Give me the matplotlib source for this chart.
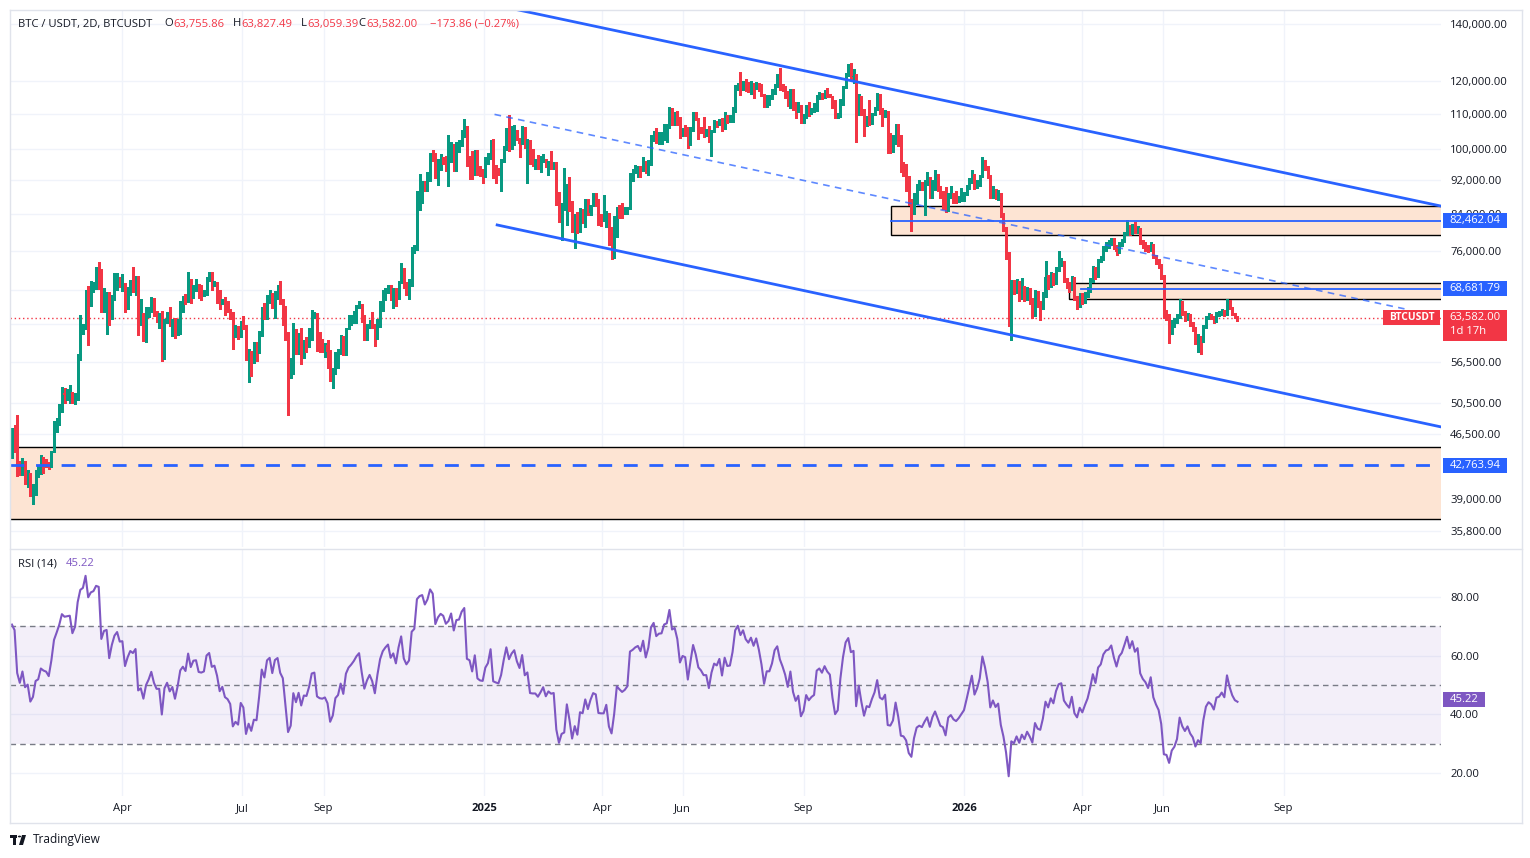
import datetime as dt
import numpy as np
import matplotlib
matplotlib.use("Agg")
import matplotlib.pyplot as plt
import matplotlib.dates as mdates
from matplotlib.patches import Rectangle, Polygon, Circle
from matplotlib.lines import Line2D
from matplotlib.ticker import FixedLocator, NullLocator

plt.rcParams['font.family'] = ['Open Sans', 'DejaVu Sans']

# ---------------- data (prices in thousands USDT, 2-day candles) ----------------
FIRST_BAR_CLOSE_DAY = '2024-01-08'   # candles [Jan 7-8], [Jan 9-10], ...
first_open_k = 43.9

close_k = [
    47.0, 46.6, 42.8, 41.7, 43.1, 41.3, 41.6, 39.5, 40.0, 41.8,
    42.0, 43.3, 43.1, 43.0, 42.6, 44.3, 47.1, 48.3, 49.7, 51.9,
    51.7, 51.8, 51.9, 50.7, 51.7, 57.0, 61.2, 62.0, 68.3, 66.1,
    68.3, 68.9, 71.5, 71.4, 65.3, 67.6, 67.9, 63.8, 67.2, 69.9,
    71.0, 69.6, 69.7, 65.9, 67.9, 69.4, 69.1, 70.0, 63.0, 63.4,
    61.3, 63.8, 64.9, 66.4, 64.5, 63.4, 63.4, 58.3, 62.9, 64.0,
    62.3, 63.1, 60.8, 63.0, 66.2, 67.0, 66.3, 70.1, 67.9, 69.3,
    69.4, 67.6, 67.5, 67.7, 70.6, 71.1, 69.3, 69.5, 68.2, 66.0,
    66.6, 65.1, 64.8, 64.1, 60.3, 60.8, 60.3, 62.7, 62.0, 57.0,
    58.2, 56.7, 58.0, 57.9, 60.8, 65.1, 63.9, 67.1, 67.6, 65.4,
    67.9, 68.3, 66.2, 65.4, 60.7, 54.0, 55.0, 60.9, 58.7, 60.6,
    57.5, 59.5, 59.4, 61.2, 64.0, 64.2, 59.4, 59.0, 58.9, 59.1,
    58.0, 54.0, 54.9, 57.6, 58.1, 60.0, 58.2, 61.8, 63.0, 63.6,
    64.3, 65.2, 65.8, 63.3, 60.8, 62.1, 63.0, 62.1, 60.3, 63.2,
    66.0, 67.6, 68.4, 69.0, 67.4, 68.2, 67.0, 69.9, 72.3, 69.5,
    68.7, 69.4, 75.9, 76.7, 88.7, 90.5, 91.1, 89.8, 92.3, 98.3,
    97.7, 93.0, 95.9, 97.5, 97.2, 96.0, 97.0, 99.9, 97.4, 101.2,
    101.4, 104.5, 106.1, 97.5, 97.2, 94.9, 99.4, 94.2, 93.7, 93.6,
    96.9, 98.1, 102.1, 95.0, 94.7, 94.5, 96.5, 100.5, 104.4, 102.0,
    103.7, 104.7, 102.6, 101.3, 104.7, 100.6, 101.3, 96.6, 96.5, 96.5,
    95.8, 96.6, 97.5, 95.8, 96.6, 96.2, 96.3, 88.7, 84.7, 86.0,
    86.2, 90.6, 86.7, 80.7, 82.9, 80.0, 84.3, 84.0, 86.8, 84.2,
    86.1, 87.5, 87.2, 82.6, 82.5, 82.5, 83.9, 78.4, 76.3, 79.6,
    85.3, 84.6, 84.0, 84.4, 85.1, 93.4, 93.9, 94.6, 95.0, 94.2,
    96.9, 94.3, 96.8, 103.2, 104.8, 102.7, 103.5, 103.6, 106.4, 106.8,
    111.7, 108.9, 109.4, 107.8, 104.0, 105.6, 105.4, 101.5, 105.6, 110.3,
    108.6, 106.1, 105.5, 104.6, 104.6, 102.2, 105.3, 107.3, 107.0, 108.4,
    105.7, 109.6, 108.2, 108.3, 111.3, 117.5, 119.1, 117.7, 119.2, 117.9,
    117.4, 118.7, 117.6, 119.4, 117.9, 115.8, 112.6, 115.0, 115.0, 116.5,
    119.3, 120.2, 118.4, 117.4, 116.2, 114.3, 116.9, 113.5, 111.8, 112.6,
    108.4, 109.2, 111.7, 110.7, 111.2, 111.5, 115.5, 115.9, 115.3, 116.4,
    115.7, 115.3, 112.0, 109.1, 109.6, 114.3, 118.6, 122.3, 123.5, 121.4,
    121.7, 110.6, 115.3, 110.8, 106.4, 108.6, 108.3, 110.1, 111.6, 114.5,
    110.1, 109.6, 110.6, 101.5, 101.3, 102.3, 106.0, 101.7, 94.5, 94.2,
    92.5, 86.6, 84.6, 88.2, 90.4, 90.8, 90.3, 91.3, 92.1, 89.3,
    91.0, 92.0, 90.2, 88.2, 87.8, 85.5, 88.2, 88.6, 87.6, 87.2,
    87.6, 88.1, 88.6, 90.0, 91.6, 93.3, 90.5, 91.4, 92.9, 96.7,
    95.2, 93.0, 88.3, 89.4, 88.1, 88.6, 84.0, 80.9, 75.5, 62.7,
    69.5, 68.6, 70.0, 67.2, 68.8, 67.0, 68.4, 66.6, 64.3, 67.9,
    66.0, 65.6, 67.6, 70.9, 69.4, 71.2, 70.0, 72.4, 73.8, 74.0,
    70.4, 69.5, 68.8, 70.6, 67.0, 66.0, 67.5, 66.5, 67.6, 68.6,
    70.3, 72.6, 71.2, 74.0, 74.6, 76.6, 77.4, 77.6, 78.4, 77.0,
    75.9, 77.6, 78.2, 79.6, 81.2, 80.0, 81.3, 80.2, 80.8, 78.0,
    77.3, 76.9, 76.2, 77.5, 75.0, 74.0, 73.2, 71.0, 64.0, 63.8,
    61.3, 62.6, 63.0, 63.8, 66.2, 64.5, 63.5, 64.0, 62.6, 61.8,
    59.8, 60.4, 59.8, 62.0, 63.5, 64.0, 63.7, 63.0, 64.2, 64.3,
    64.7, 64.2, 66.4, 65.2, 64.3, 63.75586, 63.582,
]

high_k = [
    47.2, 47.7, 49.0, 43.3, 43.6, 43.2, 42.2, 41.9, 40.6, 42.2,
    42.8, 43.9, 43.7, 43.5, 43.1, 44.4, 48.2, 48.6, 50.4, 52.8,
    52.6, 52.5, 53.0, 52.0, 51.9, 57.6, 64.0, 62.5, 68.5, 69.2,
    70.1, 70.0, 72.9, 73.8, 72.4, 68.9, 68.1, 68.1, 67.6, 71.6,
    71.7, 70.9, 71.4, 69.7, 69.0, 70.3, 72.8, 71.2, 71.2, 66.9,
    64.4, 65.5, 65.4, 67.2, 67.1, 64.8, 64.4, 64.7, 63.3, 64.5,
    65.5, 63.4, 63.5, 63.4, 66.4, 67.4, 67.7, 71.9, 70.6, 69.5,
    70.6, 69.6, 69.5, 68.4, 71.0, 71.8, 71.9, 70.1, 70.0, 68.4,
    66.9, 67.2, 66.4, 65.0, 64.5, 62.4, 62.2, 63.0, 63.8, 62.3,
    58.5, 58.2, 59.5, 59.5, 61.4, 65.4, 66.1, 67.5, 68.5, 68.0,
    68.3, 69.4, 70.1, 66.9, 65.6, 61.1, 57.1, 62.7, 61.7, 61.0,
    61.8, 59.8, 60.3, 61.8, 64.9, 64.5, 64.4, 61.2, 60.0, 59.4,
    59.8, 58.3, 55.5, 58.0, 58.5, 60.7, 60.6, 61.8, 64.1, 64.0,
    64.8, 65.8, 66.5, 66.0, 64.1, 62.5, 63.2, 64.5, 62.5, 63.4,
    66.5, 68.4, 68.9, 69.4, 69.5, 68.8, 68.8, 70.2, 73.6, 72.7,
    69.9, 70.5, 76.9, 77.2, 89.4, 93.5, 91.8, 91.8, 94.1, 98.9,
    99.8, 98.9, 97.4, 98.7, 97.9, 98.1, 104.0, 101.9, 101.4, 101.9,
    102.5, 105.3, 108.4, 106.5, 98.2, 99.5, 99.9, 99.9, 95.5, 94.9,
    97.8, 98.9, 102.5, 102.7, 95.8, 95.0, 97.3, 100.8, 105.9, 109.6,
    106.3, 106.8, 105.3, 103.1, 106.4, 106.1, 102.8, 102.5, 100.1, 97.3,
    98.5, 98.1, 98.8, 97.1, 96.9, 99.5, 96.7, 96.5, 89.2, 86.5,
    95.0, 91.0, 92.8, 86.9, 84.1, 84.4, 85.3, 85.1, 87.4, 87.4,
    86.1, 88.8, 88.8, 87.5, 83.9, 88.5, 84.7, 84.2, 81.2, 83.5,
    85.5, 86.0, 86.5, 85.5, 85.5, 93.9, 94.7, 95.8, 95.6, 95.5,
    97.9, 96.9, 97.1, 103.9, 104.9, 105.8, 104.8, 104.6, 107.1, 107.1,
    111.9, 111.8, 110.4, 110.7, 108.9, 105.9, 106.8, 106.0, 106.0, 110.4,
    110.4, 108.6, 106.2, 108.9, 105.6, 106.4, 105.4, 108.1, 108.0, 108.5,
    108.8, 110.5, 109.7, 109.7, 111.9, 118.9, 119.5, 123.2, 120.1, 120.8,
    119.7, 120.2, 119.5, 119.8, 119.3, 119.3, 116.0, 115.7, 115.7, 117.7,
    119.3, 122.3, 124.5, 119.2, 118.6, 117.0, 117.4, 117.4, 113.6, 113.5,
    112.6, 109.9, 112.6, 113.4, 111.7, 113.2, 115.6, 116.7, 116.2, 117.3,
    117.9, 116.1, 115.4, 114.0, 110.3, 114.5, 118.6, 122.8, 125.7, 126.2,
    124.2, 122.5, 115.9, 115.4, 111.3, 109.4, 114.0, 110.3, 112.1, 116.4,
    116.1, 111.6, 111.2, 110.8, 104.5, 104.0, 107.0, 107.0, 104.0, 96.7,
    96.0, 93.0, 87.5, 89.0, 91.0, 92.0, 91.5, 92.0, 94.1, 92.7,
    92.0, 94.5, 93.5, 90.6, 89.3, 90.3, 89.0, 90.5, 88.9, 89.3,
    88.2, 90.0, 89.2, 90.9, 92.6, 94.6, 93.6, 92.0, 93.4, 97.9,
    97.2, 95.6, 93.3, 90.6, 89.8, 89.6, 89.0, 84.3, 81.2, 75.9,
    70.4, 70.3, 70.5, 70.2, 70.8, 69.3, 69.0, 68.8, 67.0, 68.4,
    68.3, 66.4, 68.1, 74.0, 71.3, 71.8, 71.6, 72.9, 76.0, 74.6,
    74.1, 70.8, 69.9, 71.2, 70.9, 67.4, 68.0, 67.9, 68.1, 69.0,
    70.7, 73.0, 72.9, 74.4, 75.1, 77.0, 77.9, 78.3, 78.8, 78.7,
    77.3, 77.9, 78.6, 80.0, 82.7, 81.6, 81.8, 82.3, 81.3, 81.0,
    78.3, 77.9, 77.2, 77.9, 77.6, 75.2, 74.4, 73.5, 71.3, 64.9,
    64.2, 63.1, 63.5, 64.2, 66.9, 66.4, 64.7, 64.4, 64.2, 62.9,
    62.0, 60.8, 60.6, 62.4, 63.9, 64.3, 64.2, 63.9, 64.5, 64.8,
    65.0, 64.9, 66.8, 66.6, 65.4, 64.4, 63.82749,
]

low_k = [
    43.6, 44.3, 41.5, 41.7, 41.7, 40.7, 40.3, 39.4, 38.5, 39.5,
    41.4, 41.8, 41.9, 42.6, 42.3, 42.6, 44.3, 46.8, 47.7, 49.3,
    50.6, 51.0, 50.5, 50.5, 50.4, 50.9, 56.7, 60.8, 61.6, 59.0,
    65.6, 68.1, 68.6, 68.6, 64.6, 64.6, 60.8, 62.3, 63.3, 66.6,
    68.4, 69.1, 68.3, 64.5, 65.1, 67.6, 68.2, 67.5, 60.7, 62.3,
    59.7, 59.6, 63.7, 64.5, 63.8, 62.8, 61.8, 56.6, 56.9, 62.6,
    62.2, 60.6, 60.2, 60.7, 60.8, 64.6, 65.9, 66.3, 66.1, 67.1,
    68.3, 67.1, 66.7, 67.3, 67.6, 70.2, 68.5, 69.2, 66.1, 65.1,
    65.9, 64.1, 64.5, 63.4, 58.4, 60.3, 60.1, 60.4, 61.7, 56.8,
    53.5, 54.3, 56.3, 56.6, 57.8, 60.6, 63.3, 63.3, 66.2, 65.2,
    63.5, 66.8, 65.9, 62.3, 59.9, 49.0, 54.1, 54.7, 57.6, 57.6,
    56.1, 57.1, 57.9, 58.8, 59.8, 63.6, 58.1, 57.9, 57.9, 57.2,
    55.6, 53.6, 52.6, 54.6, 55.6, 57.6, 57.5, 57.5, 61.7, 62.4,
    62.7, 62.7, 65.4, 62.9, 59.8, 59.9, 61.9, 61.8, 58.9, 60.1,
    62.0, 64.8, 66.6, 67.9, 66.6, 65.2, 65.6, 66.8, 69.7, 68.8,
    67.5, 66.8, 69.3, 75.6, 76.3, 85.0, 86.6, 89.3, 89.4, 91.8,
    97.0, 92.6, 90.8, 94.6, 96.2, 94.4, 90.5, 96.5, 94.2, 94.3,
    99.3, 100.8, 103.3, 95.5, 92.2, 92.3, 93.4, 93.4, 93.1, 91.3,
    92.9, 96.0, 97.3, 92.5, 91.2, 93.3, 89.3, 96.5, 99.9, 99.5,
    100.1, 101.2, 102.4, 97.8, 101.3, 100.3, 91.2, 96.2, 95.6, 94.7,
    94.9, 94.1, 96.8, 95.2, 93.4, 94.8, 94.9, 86.1, 82.3, 78.3,
    85.0, 81.5, 84.7, 80.0, 76.6, 79.9, 80.8, 82.0, 81.1, 83.7,
    83.7, 85.9, 85.8, 81.6, 81.3, 82.4, 81.2, 77.2, 74.5, 74.6,
    78.9, 83.0, 83.1, 84.0, 83.9, 85.1, 91.7, 93.9, 92.9, 92.9,
    94.2, 93.9, 93.4, 95.8, 102.3, 101.8, 101.4, 101.4, 102.6, 102.0,
    105.9, 106.6, 106.7, 106.8, 103.1, 103.7, 103.7, 100.4, 101.0, 105.1,
    108.1, 102.7, 104.4, 103.4, 103.5, 101.9, 98.2, 104.7, 106.1, 106.8,
    105.1, 105.5, 107.3, 107.5, 107.5, 110.6, 117.2, 115.7, 117.2, 116.8,
    116.5, 116.1, 114.7, 117.4, 116.9, 115.5, 112.0, 111.9, 112.7, 114.3,
    116.1, 118.2, 117.2, 116.8, 114.7, 112.4, 111.7, 111.0, 108.7, 110.4,
    107.3, 107.3, 108.8, 109.3, 109.9, 110.6, 110.9, 114.4, 114.5, 114.7,
    115.1, 115.0, 111.6, 108.6, 108.6, 109.1, 112.7, 118.0, 121.9, 120.7,
    119.5, 102.0, 109.6, 109.7, 103.5, 106.3, 106.6, 106.9, 109.7, 111.0,
    109.8, 106.3, 109.0, 98.9, 98.9, 99.3, 101.4, 100.8, 94.0, 93.0,
    89.3, 86.0, 80.3, 84.0, 86.3, 89.5, 89.7, 83.8, 90.9, 87.8,
    87.6, 89.6, 89.3, 87.6, 85.2, 84.5, 84.8, 87.6, 86.6, 86.6,
    86.8, 86.9, 87.1, 88.3, 89.9, 91.2, 89.9, 90.0, 90.6, 92.8,
    94.5, 92.5, 87.6, 87.8, 87.5, 87.3, 83.3, 80.3, 74.5, 62.2,
    59.9, 67.8, 67.9, 66.5, 66.8, 66.5, 66.6, 65.9, 63.6, 63.8,
    65.5, 63.2, 65.1, 67.2, 68.7, 69.0, 69.5, 69.6, 72.0, 73.0,
    70.0, 68.9, 68.2, 68.5, 66.6, 65.0, 65.5, 65.9, 66.2, 67.2,
    68.2, 70.0, 70.6, 70.9, 73.8, 74.3, 76.0, 76.7, 77.2, 76.4,
    75.2, 75.6, 77.0, 77.9, 79.3, 79.4, 79.6, 79.8, 79.8, 77.6,
    76.7, 76.1, 75.8, 76.0, 74.6, 73.5, 72.6, 70.5, 63.6, 63.2,
    59.4, 60.8, 62.0, 62.7, 63.5, 64.1, 63.0, 63.1, 62.2, 61.3,
    59.3, 58.0, 57.7, 59.6, 61.8, 63.3, 63.3, 62.7, 62.8, 63.8,
    64.0, 63.9, 64.0, 65.0, 64.0, 63.6, 63.05939,
]

# closes before the first visible bar (only used to seed the RSI)
warmup_close_k = [
    26.8, 26.9, 28.5, 28.3, 29.7, 30.0, 33.9, 34.1, 34.1, 34.5,
    35.4, 34.7, 35.0, 35.4, 36.7, 37.1, 36.5, 37.9, 36.2, 37.4,
    35.8, 37.3, 37.7, 37.2, 37.9, 38.7, 39.5, 44.1, 43.3, 43.7,
    41.2, 42.9, 41.9, 41.4, 42.3, 43.8, 43.7, 43.6, 43.4, 42.1,
    42.3, 45.0, 44.2, 43.9,
]

# horizontal levels / drawings
level_top = 82462.04
level_mid = 68681.79
level_low = 42763.94
box_top = (79300, 85830)
box_mid = (66790, 69740)
box_low = (36980, 44870)
upper_line = [('2025-01-27', 145400), ('2026-12-30', 85800)]
lower_line = [('2025-01-11', 81570), ('2026-12-30', 47390)]
mid_line = [('2025-01-09', 109800), ('2026-12-02', 65100)]
box_top_start = '2025-11-06 12:00'
box_mid_start = '2026-03-21 21:00'
level_mid_start = '2026-03-31'

price_ticks = [140000, 120000, 110000, 100000, 92000, 84000, 76000,
               56500, 50500, 46500, 39000, 35800]
price_grid = price_ticks + [68500, 62500, 42500]
rsi_ticks = [20, 40, 60, 80]
time_ticks = ['2024-04-01', '2024-07-01', '2024-09-01', '2025-01-01', '2025-04-01',
              '2025-06-01', '2025-09-01', '2026-01-01', '2026-04-01', '2026-06-01',
              '2026-09-01']
time_labels = ['Apr', 'Jul', 'Sep', '2025', 'Apr', 'Jun', 'Sep', '2026', 'Apr', 'Jun', 'Sep']
rsi_label_value = 45.22
countdown = '1d 17h'

assert len(close_k) == len(high_k) == len(low_k)

# ---------------- styling ----------------
GREEN = '#089981'; RED = '#F23645'; BLUE = '#2962FF'; PURPLE = '#7E57C2'
DARK = '#131722'; GRID = '#f0f3fa'; BORDER = '#e0e3eb'; BOXFILL = '#fde4d3'
FS = 8.1

W, H = 1530, 858
fig = plt.figure(figsize=(W / 100, H / 100), dpi=100)
fig.patch.set_facecolor('white')


def fx(px):
    return px / W


def fy(py):
    return 1 - py / H


ax = fig.add_axes([fx(10), fy(547), fx(1441) - fx(10), fy(10) - fy(547)])
axr = fig.add_axes([fx(10), fy(796), fx(1441) - fx(10), fy(550) - fy(796)], sharex=ax)

d = mdates.datestr2num
ref = d('2025-01-01')
px_per_day = 1.315
xl = (ref - 474 / px_per_day, ref + 957 / px_per_day)

C = np.array(close_k) * 1000
Hh = np.array(high_k) * 1000
Ll = np.array(low_k) * 1000
n = len(C)
O = np.concatenate([[first_open_k * 1000], C[:-1]])
xs = d(FIRST_BAR_CLOSE_DAY) + 2 * np.arange(n)
hi = np.maximum(Hh, np.maximum(O, C))
lo = np.minimum(Ll, np.minimum(O, C))
cols = np.where(C >= O, GREEN, RED)

# ---------------- price pane ----------------
ax.set_yscale('log')
ax.set_xlim(*xl)
ax.set_ylim(34321, 145370)
for g in price_grid:
    ax.axhline(g, color=GRID, lw=1, zorder=0)
for t in time_ticks:
    ax.axvline(d(t), color=GRID, lw=1, zorder=0)
    axr.axvline(d(t), color=GRID, lw=1, zorder=0)


def box(x0, y0, y1, z=1):
    r = Rectangle((x0, y0), xl[1] + 5 - x0, y1 - y0, facecolor=BOXFILL, edgecolor='black',
                  lw=1.0, zorder=z)
    ax.add_patch(r)


box(d(box_top_start), *box_top)
box(d(box_mid_start), *box_mid)
box(xl[0] - 5, *box_low)

ax.vlines(xs, lo, hi, colors=cols, lw=0.8, zorder=3, antialiased=False)
bott = np.minimum(O, C)
hgt = np.maximum(np.abs(C - O), bott * 0.0025)
ax.bar(xs, hgt, bottom=bott, width=1.55, color=cols, lw=0, zorder=4, antialiased=False)

# levels
ax.plot([d(box_top_start), xl[1]], [level_top, level_top], color=BLUE, lw=1.3, zorder=5)
ax.plot([d(level_mid_start), xl[1]], [level_mid, level_mid], color=BLUE, lw=1.3, zorder=5)
ax.plot([xl[0], xl[1]], [level_low, level_low], color=BLUE, lw=2.0, zorder=5,
        linestyle=(0, (5, 4.2)))

# trend lines
for pts, kw in ((upper_line, dict(lw=2.0, color=BLUE)),
                (lower_line, dict(lw=2.0, color=BLUE)),
                (mid_line, dict(lw=1.2, color=BLUE, alpha=0.75, linestyle=(0, (4, 3.2))))):
    ax.plot([d(p[0]) for p in pts], [p[1] for p in pts], zorder=6, **kw)

# last price dotted line
ax.axhline(C[-1], color=RED, lw=1, linestyle=(0, (1, 2)), zorder=2)

ax.yaxis.tick_right()
ax.yaxis.set_major_locator(FixedLocator(price_ticks))
ax.yaxis.set_minor_locator(NullLocator())
ax.set_yticklabels([f'{v:,.2f}' for v in price_ticks])
ax.tick_params(axis='y', length=0, pad=6.5, labelsize=FS, labelcolor=DARK)
ax.tick_params(axis='x', length=0, labelbottom=False)
for s in ax.spines.values():
    s.set_visible(False)


# ---------------- RSI pane ----------------
def rsi_wilder(c, period=14):
    dlt = np.diff(c)
    up = np.where(dlt > 0, dlt, 0.0)
    dn = np.where(dlt < 0, -dlt, 0.0)
    out = np.full(len(c), np.nan)
    ag = up[:period].mean()
    al = dn[:period].mean()
    out[period] = 100 - 100 / (1 + ag / al)
    for k in range(period + 1, len(c)):
        ag = (ag * (period - 1) + up[k - 1]) / period
        al = (al * (period - 1) + dn[k - 1]) / period
        out[k] = 100 - 100 / (1 + ag / al)
    return out


full = np.concatenate([np.array(warmup_close_k) * 1000, C])
rsi = rsi_wilder(full)[len(warmup_close_k):]

axr.set_ylim(12.16, 96.02)
for g in rsi_ticks:
    axr.axhline(g, color=GRID, lw=1, zorder=0)
axr.axhspan(30, 70, color=PURPLE, alpha=0.09, lw=0, zorder=1)
for lv in (70, 50, 30):
    axr.axhline(lv, color='#787B86', lw=1, linestyle=(0, (4, 3)), zorder=2)
axr.plot(xs, rsi, color=PURPLE, lw=1.5, zorder=4)
axr.yaxis.tick_right()
axr.set_yticks(rsi_ticks)
axr.set_yticklabels([f'{v:.2f}' for v in rsi_ticks])
axr.tick_params(axis='y', length=0, pad=6.5, labelsize=FS, labelcolor=DARK)
axr.set_xticks([d(t) for t in time_ticks])
axr.set_xticklabels(time_labels)
axr.tick_params(axis='x', length=0, pad=5, labelsize=FS, labelcolor=DARK)
for lab, txt in zip(axr.get_xticklabels(), time_labels):
    if txt.isdigit():
        lab.set_fontweight('bold')
for s in axr.spines.values():
    s.set_visible(False)
axr.set_xlim(*xl)


# ---------------- frame lines ----------------
def fline(x0, y0, x1, y1, color=BORDER, lw=1.0):
    fig.add_artist(Line2D([fx(x0), fx(x1)], [fy(y0), fy(y1)], color=color, lw=lw,
                          transform=fig.transFigure))


fline(9.5, 9.5, 1521.5, 9.5)
fline(9.5, 822.5, 1521.5, 822.5)
fline(9.5, 9.5, 9.5, 822.5)
fline(1521.5, 9.5, 1521.5, 822.5)
fline(9.5, 548.5, 1521.5, 548.5)


# ---------------- labels on the price scale ----------------
def price_py(p, axis=ax):
    return H - axis.transData.transform((xl[0], p))[1]


def label_box(x0, x1, yc, h, color, text, bold=False, fs=FS):
    fig.add_artist(Rectangle((fx(x0), fy(yc + h / 2)), fx(x1) - fx(x0), h / H,
                             facecolor=color, edgecolor='none', transform=fig.transFigure,
                             zorder=10))
    fig.text(fx((x0 + x1) / 2), fy(yc), text, color='white', fontsize=fs, ha='center',
             va='center', zorder=11, fontweight='bold' if bold else 'normal')


label_box(1443, 1507, price_py(level_top), 15, BLUE, f'{level_top:,.2f}')
label_box(1443, 1507, price_py(level_mid), 15, BLUE, f'{level_mid:,.2f}')
label_box(1443, 1507, price_py(level_low), 15, BLUE, f'{level_low:,.2f}')
yc = price_py(C[-1])
fig.add_artist(Rectangle((fx(1443), fy(yc + 23)), fx(1507) - fx(1443), 31 / H,
                         facecolor=RED, edgecolor='none', transform=fig.transFigure, zorder=10))
fig.text(fx(1475), fy(yc), f'{C[-1]:,.2f}', color='white', fontsize=FS, ha='center',
         va='center', zorder=11)
fig.text(fx(1450), fy(yc + 14), countdown, color='white', fontsize=FS, ha='left',
         va='center', zorder=11)
label_box(1383, 1440, yc, 15, RED, 'BTCUSDT', bold=True, fs=7.4)
label_box(1443, 1485, price_py(rsi_label_value, axr), 15, PURPLE, f'{rsi_label_value:.2f}')

# ---------------- header texts ----------------
o_l, h_l, l_l, c_l = O[-1], Hh[-1], Ll[-1], C[-1]
chg = c_l - o_l
pct = chg / o_l * 100
hdr = [(18, 'BTC / USDT, 2D, BTCUSDT', DARK), (164.6, 'O', DARK), (173.2, f'{o_l:,.2f}', RED),
       (232.4, 'H', DARK), (241.0, f'{h_l:,.2f}', RED), (301.3, 'L', DARK),
       (307.5, f'{l_l:,.2f}', RED), (358.8, 'C', DARK), (366.0, f'{c_l:,.2f}', RED),
       (429.7, f'{chg:,.2f} ({pct:.2f}%)'.replace('-', '\u2212'), RED)]
for x, t, c in hdr:
    fig.text(fx(x), fy(24), t, color=c, fontsize=FS, ha='left', va='center')

fig.text(fx(18), fy(564), 'RSI (14)', color=DARK, fontsize=FS, ha='left', va='center')
fig.text(fx(66), fy(564), f'{rsi_label_value:.2f}', color=PURPLE, fontsize=FS,
         ha='left', va='center')

# ---------------- TradingView logo ----------------
fig.add_artist(Rectangle((fx(10), fy(838)), 7 / W, 3 / H, facecolor=DARK, edgecolor='none',
                         transform=fig.transFigure))
fig.add_artist(Rectangle((fx(13), fy(845)), 3 / W, 10 / H, facecolor=DARK, edgecolor='none',
                         transform=fig.transFigure))
fig.add_artist(Circle((fx(19.5), fy(836.5)), 1.6 / W, facecolor=DARK, edgecolor='none',
                      transform=fig.transFigure))
fig.add_artist(Polygon([(fx(22), fy(835)), (fx(26), fy(835)), (fx(23), fy(845)),
                        (fx(19), fy(845))], closed=True, facecolor=DARK, edgecolor='none',
                       transform=fig.transFigure))
fig.text(fx(33), fy(840), 'TradingView', color=DARK, fontsize=8.6, ha='left', va='center')

fig.savefig('out.png', dpi=100, facecolor='white')
